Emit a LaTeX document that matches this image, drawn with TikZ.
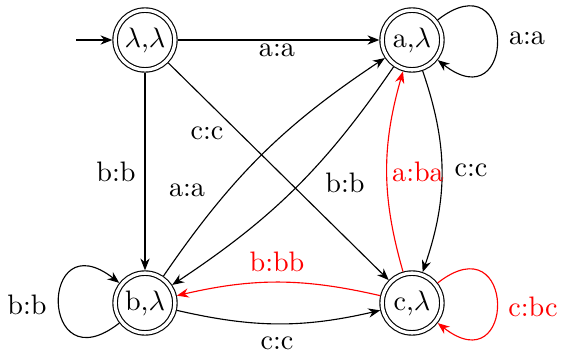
\documentclass[tikz,border=0pt]{standalone}
\usetikzlibrary{arrows.meta}
\begin{document}
\begin{tikzpicture}[x=0.355pt,y=0.355pt,
  >={Stealth[length=4.2pt,width=3.3pt]},
  state/.style={circle,draw,double,double distance=1.2pt,minimum size=21.2pt,inner sep=0pt,outer sep=1pt},
  lbl/.style={inner sep=0pt},
  redline/.style={red}]
\useasboundingbox (0,0) rectangle (561,-352);
\node[state] (L) at (145,-40) {$\lambda$,$\lambda$};
\node[state] (A) at (412,-40) {a,$\lambda$};
\node[state] (B) at (145,-303) {b,$\lambda$};
\node[state] (C) at (412,-303) {c,$\lambda$};
\coordinate (S) at (76,-40);
% edges
\draw[->] (S) -- (L);
\draw[->] (L) -- (A);
\draw[->] (L) -- (B);
\draw[->] (L) -- (C);
\draw[->] (B) to[bend left=11] (A);
\draw[->] (A) to[bend left=11] (B);
\draw[->] (A) to[bend left=19] (C);
\draw[->,redline] (C) to[bend left=16] (A);
\draw[->] (B) to[bend right=13] (C);
\draw[->,redline] (C) to[bend right=13] (B);
\draw[->] (A.38) .. controls +(38:100) and +(-38:100) .. (A.-38);
\draw[->,redline] (C.38) .. controls +(38:100) and +(-38:100) .. (C.-38);
\draw[->] (B.218) .. controls +(218:102) and +(142:102) .. (B.142);
% labels
\node[lbl] (l1) at (277,-50) {a:a};
\node[lbl] (l2) at (116,-172) {b:b};
\node[lbl] (l3) at (207,-133) {c:c};
\node[lbl] (l4) at (187,-190) {a:a};
\node[lbl] (l5) at (345,-183) {b:b};
\node[lbl] (l6) at (471,-170) {c:c};
\node[lbl,red] (l7) at (418,-172) {a:ba};
\node[lbl] (l8) at (277,-343) {c:c};
\node[lbl,red] (l9) at (277,-262) {b:bb};
\node[lbl] (l10) at (527,-38) {a:a};
\node[lbl,red] (l11) at (533,-307) {c:bc};
\node[lbl] (l12) at (27,-305) {b:b};
\end{tikzpicture}
\end{document}
